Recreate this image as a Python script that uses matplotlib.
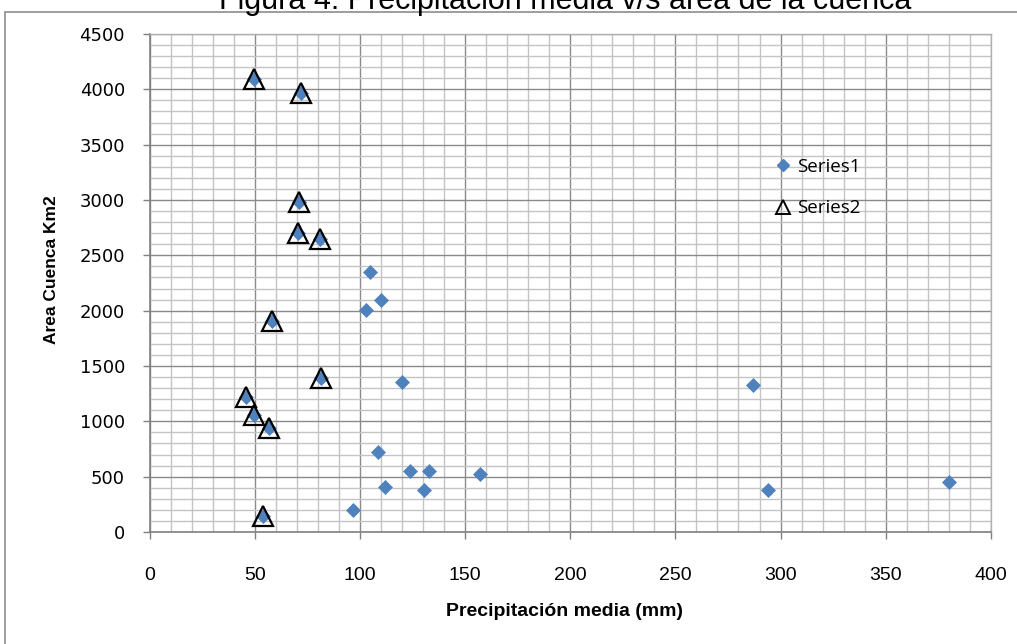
import matplotlib
matplotlib.use("Agg")
import matplotlib.pyplot as plt
from matplotlib.lines import Line2D
from matplotlib.patches import Rectangle
from matplotlib.ticker import MultipleLocator

# Precipitación media (mm) vs. área de la cuenca (km2)
precip_s1 = [49.6, 71.8, 70.9, 70.6, 80.9, 58.0, 81.5, 45.7, 49.6, 56.8, 53.9,
             104.7, 109.8, 102.8, 119.8, 108.6, 123.9, 132.7, 111.8, 130.5,
             96.7, 156.9, 286.9, 293.9, 380.0]
area_s1 = [4090, 3970, 2985, 2705, 2648, 1907, 1394, 1223, 1057, 942, 145,
           2347, 2096, 2003, 1358, 726, 554, 554, 407, 377,
           196, 524, 1326, 382, 449]

precip_s2 = [49.6, 71.8, 70.9, 70.6, 80.9, 58.0, 81.5, 45.7, 49.6, 56.8, 53.9]
area_s2 = [4090, 3970, 2985, 2705, 2648, 1907, 1394, 1223, 1057, 942, 145]

series_names = ["Series1", "Series2"]
x_ticks = [0, 50, 100, 150, 200, 250, 300, 350, 400]
y_ticks = [0, 500, 1000, 1500, 2000, 2500, 3000, 3500, 4000, 4500]

W, H = 1017, 644
fig = plt.figure(figsize=(W / 100, H / 100), dpi=100)

# chart-area frame
fig.patches.append(Rectangle((5 / W, -0.1), 1.2, 1.1 - 12 / H, transform=fig.transFigure,
                             fill=False, edgecolor="#8c8c8c", linewidth=1.2, zorder=0))

ax = fig.add_axes([150 / W, 1 - 532 / H, (990.7 - 150) / W, (532 - 34) / H])

blue = "#4F81BD"
ax.plot(precip_s1, area_s1, linestyle="none", marker="D", markersize=7.2,
        markerfacecolor=blue, markeredgecolor=blue, markeredgewidth=0.5, zorder=3)
ax.plot(precip_s2, area_s2, linestyle="none", marker="^", markersize=15,
        markerfacecolor="none", markeredgecolor="black", markeredgewidth=1.6, zorder=4)

ax.set_xlim(0, 400)
ax.set_ylim(0, 4500)
ax.set_xticks(x_ticks)
ax.set_yticks(y_ticks)
ax.xaxis.set_minor_locator(MultipleLocator(10))
ax.yaxis.set_minor_locator(MultipleLocator(100))

ax.grid(which="major", color="#8a8a8a", linewidth=1.0, zorder=1)
ax.grid(which="minor", color="#c4c4c4", linewidth=1.0, zorder=0)
ax.set_axisbelow(True)

for side in ("top", "right"):
    ax.spines[side].set_color("#b0b0b0")
    ax.spines[side].set_linewidth(1.0)
for side in ("bottom", "left"):
    ax.spines[side].set_color("#808080")
    ax.spines[side].set_linewidth(1.2)

ax.tick_params(which="minor", length=0)
ax.tick_params(which="major", direction="out", length=5, width=1.0, color="#808080")
ax.tick_params(axis="x", which="major", pad=20)
ax.tick_params(axis="y", which="major", pad=13)

for lbl in ax.get_xticklabels():
    lbl.set_family(["Liberation Sans"])
    lbl.set_fontsize(14)
for lbl in ax.get_yticklabels():
    lbl.set_family(["DejaVu Sans"])
    lbl.set_fontsize(13)

ax.set_xlabel("Precipitación media (mm)", fontsize=14, fontweight="bold",
              family=["Liberation Sans"])
ax.xaxis.set_label_coords((565 - 150) / 840.7, -(612 - 532) / 498)
ax.xaxis.label.set_va("center")
ax.set_ylabel("Area Cuenca Km2", fontsize=12.5, fontweight="bold",
              family=["Liberation Sans"])
ax.yaxis.set_label_coords((52 - 150) / 840.7, (532 - 269.5) / 498)
ax.yaxis.label.set_va("center")

handles = [
    Line2D([], [], linestyle="none", marker="D", markersize=6.5,
           markerfacecolor=blue, markeredgecolor=blue),
    Line2D([], [], linestyle="none", marker="^", markersize=10,
           markerfacecolor="none", markeredgecolor="black", markeredgewidth=1.4),
]
ax.legend(handles, series_names, loc="upper left", bbox_to_anchor=(0.724, 0.785),
          frameon=False, handlelength=0.8, handletextpad=0.35,
          labelspacing=1.25, prop={"family": ["Open Sans", "DejaVu Sans"], "size": 13.5})

fig.text(565 / W, 1 - 9 / H, "Figura 4: Precipitación media v/s área de la cuenca",
         ha="center", va="baseline", fontsize=22, family=["Liberation Sans"])

fig.savefig("out.png", dpi=100)
